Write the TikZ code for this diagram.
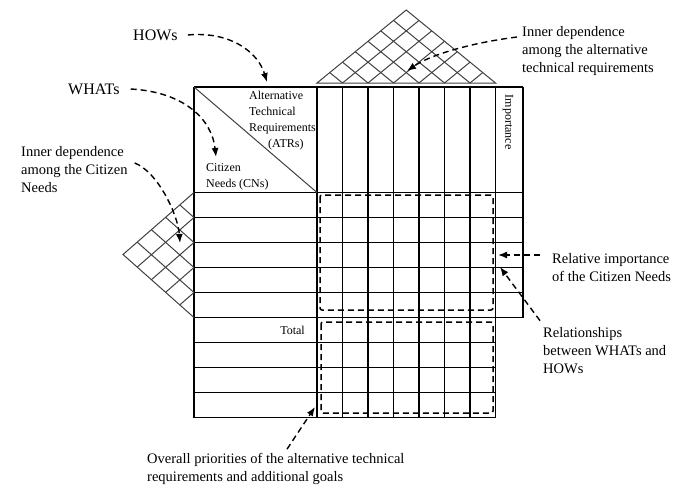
\documentclass[tikz,border=0pt]{standalone}
\usepackage{fontspec}
\setmainfont{Liberation Serif}
\usetikzlibrary{arrows.meta}
\usetikzlibrary{calc}

\begin{document}
\begin{tikzpicture}[
    x=1pt, y=-1pt,
    % Line styles
    gridline/.style={line width=1.3pt, black},
    lattice/.style={line width=1pt, black!75},
    areabox/.style={line width=1.5pt, dash pattern=on 6pt off 4pt, rounded corners=2pt},
    note/.style={->, >={Latex[length=9pt,width=7pt]}, line width=1.4pt, dash pattern=on 6pt off 4pt},
    % Text styles
    notetext/.style={font=\fontsize{14.5}{18}\selectfont, align=left, anchor=west, inner sep=0pt},
    bigtext/.style={font=\fontsize{16}{19}\selectfont, anchor=west, inner sep=0pt},
    celltext/.style={font=\fontsize{12}{16}\selectfont, align=left, inner sep=0pt}
]

\useasboundingbox (0,0) rectangle (687,485);

% Table positions
\def\xl{194}      % left edge
\def\xm{317}      % first HOWs column
\def\cw{25.5}     % column width
\def\ximp{495.5}  % importance column
\def\xr{523}      % right edge
\def\yt{87}       % top edge
\def\yh{192.5}    % bottom of header
\def\rh{25}       % row height
\def\yb{417.5}    % bottom edge

% Horizontal lines
\draw[gridline] (\xl,\yt) -- (\xr,\yt);
\foreach \r in {0,...,5}
    \draw[gridline] (\xl,\yh+\r*\rh) -- (\xr,\yh+\r*\rh);
\foreach \r in {6,...,9}
    \draw[gridline] (\xl,\yh+\r*\rh) -- (\ximp,\yh+\r*\rh);

% Vertical lines
\draw[gridline] (\xl,\yt) -- (\xl,\yb);
\foreach \c in {0,...,7}
    \draw[gridline] (\xm+\c*\cw,\yt) -- (\xm+\c*\cw,\yb);
\draw[gridline] (\xr,\yt) -- (\xr,\yh+5*\rh);

% Corner diagonal
\draw[lattice] (\xl,\yt) -- (\xm,\yh);

% Roof (HOWs vs HOWs)
\coordinate (roofL) at (\xm,83);
\coordinate (roofR) at (\ximp,83);
\coordinate (roofT) at (406.25,10);
\draw[lattice] (roofL) -- (roofT) -- (roofR) -- cycle;
\foreach \i in {1,...,6} {
    \draw[lattice] ($(roofL)!\i/7!(roofR)$) -- ($(roofT)!\i/7!(roofR)$);
    \draw[lattice] ($(roofL)!\i/7!(roofR)$) -- ($(roofL)!\i/7!(roofT)$);
}

% Left wing (WHATs vs WHATs)
\coordinate (wingT) at (\xl,\yh);
\coordinate (wingB) at (\xl,\yh+5*\rh);
\coordinate (wingL) at (123,254.5);
\draw[lattice] (wingT) -- (wingL) -- (wingB);
\foreach \i in {1,...,4} {
    \draw[lattice] ($(wingT)!\i/5!(wingB)$) -- ($(wingL)!\i/5!(wingB)$);
    \draw[lattice] ($(wingT)!\i/5!(wingB)$) -- ($(wingT)!\i/5!(wingL)$);
}

% Dashed areas
\draw[areabox] (320,195) rectangle (493,310);
\draw[areabox] (321,322) rectangle (493,413);

% Table texts
\node[celltext, anchor=west] (atrs) at (249,121) {Alternative\\Technical\\Requirements\\\hspace*{19pt}(ATRs)};
\node[celltext, anchor=west] (cns) at (206,177) {Citizen\\Needs (CNs)};
\node[celltext, rotate=-90] (imp) at (508,122) {Importance};
\node[celltext, anchor=east] (total) at (305,330) {Total};

% Labels
\node[bigtext] (hows) at (133,35) {HOWs};
\node[bigtext] (whats) at (68,89) {WHATs};
\node[notetext] (cnDep) at (21,170) {Inner dependence\\among the Citizen\\Needs};
\node[notetext] (atrDep) at (522,51.5) {Inner dependence\\among the alternative\\technical requirements};
\node[notetext] (relImp) at (552,268) {Relative importance\\of the Citizen Needs};
\node[notetext] (relWH) at (543,351) {Relationships\\between WHATs and\\HOWs};
\node[notetext] (overall) at (147,469) {Overall priorities of the alternative technical\\requirements and additional goals};

% Arrow tips
\coordinate (howsTip) at (267,82);
\coordinate (whatsTip) at (216,157);
\coordinate (cnTip) at (180,243);
\coordinate (atrTip) at (407,71);
\coordinate (relImpTip) at (498,255);
\coordinate (relWHTip) at (500,267);
\coordinate (overallTip) at (315,407);

% Arrows
\draw[note] ([xshift=10pt]hows.east) .. controls (230,31) and (258,52) .. (howsTip);
\draw[note] ([xshift=11pt]whats.east) .. controls (185,92) and (212,120) .. (whatsTip);
\draw[note] ([xshift=7pt,yshift=7pt]cnDep.east) .. controls (158,172) and (178,215) .. (cnTip);
\draw[note] ([xshift=-5pt,yshift=14.5pt]atrDep.west) .. controls (470,43) and (430,55) .. (atrTip);
\draw[note] ([xshift=-12pt,yshift=13pt]relImp.west) -- (relImpTip);
\draw[note] ([xshift=-3pt,yshift=7pt]relWH.north west) -- (relWHTip);
\draw[note] ([xshift=140pt,yshift=4pt]overall.north west) -- (overallTip);

\end{tikzpicture}
\end{document}
